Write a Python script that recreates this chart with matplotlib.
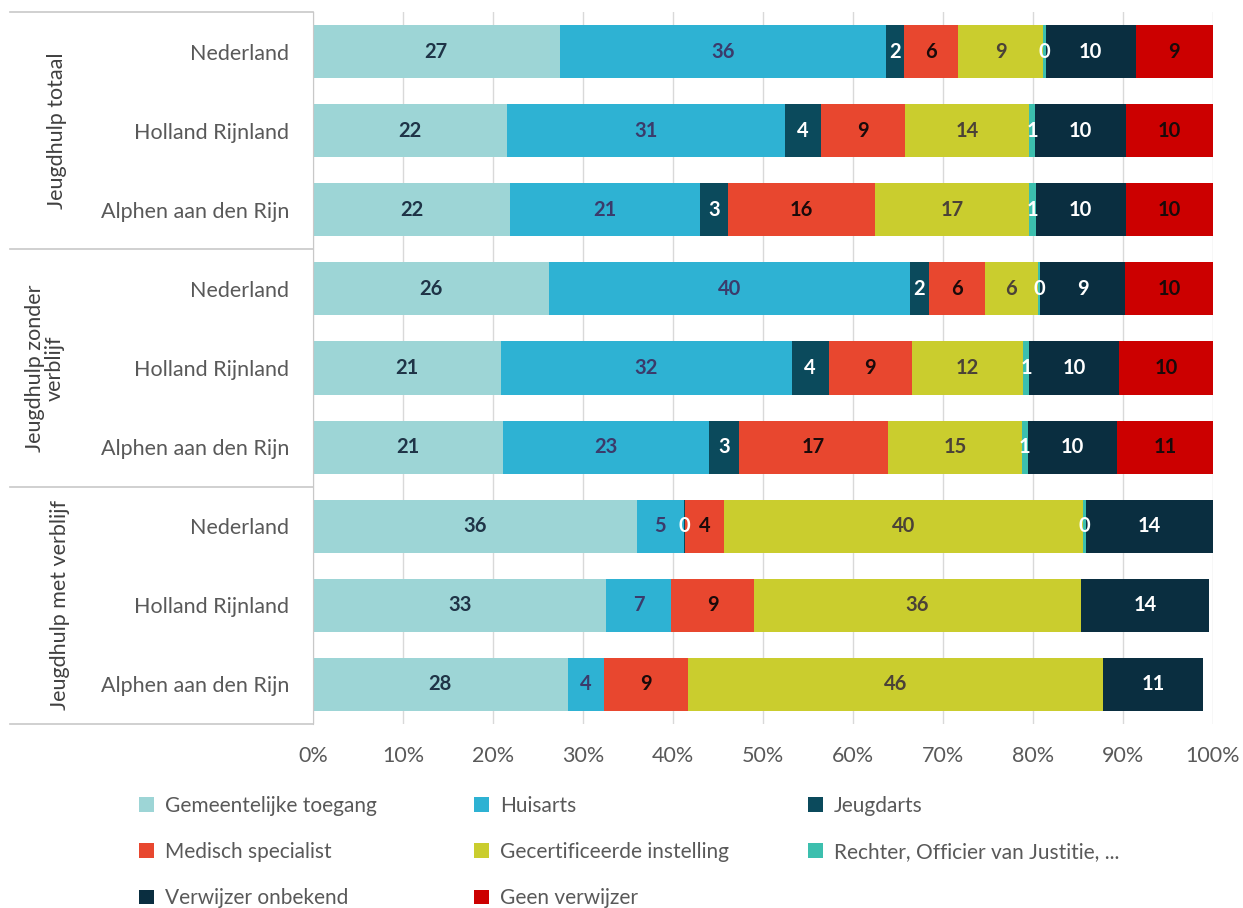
import matplotlib.pyplot as plt
from matplotlib.patches import Patch
from matplotlib.transforms import blended_transform_factory

plt.rcParams["font.family"] = ["Lato", "DejaVu Sans"]

# rows, top to bottom
rows = ["Nederland", "Holland Rijnland", "Alphen aan den Rijn"] * 3
groups = ["Jeugdhulp totaal", "Jeugdhulp zonder\nverblijf", "Jeugdhulp met verblijf"]

# share per verwijzer (%), None = no value
gemeente = [27.4, 21.6, 21.9, 26.2, 20.9, 21.1, 36.0, 32.6, 28.3]
huisarts = [36.3, 30.8, 21.1, 40.1, 32.3, 22.9, 5.2, 7.2, 4.0]
jeugdarts = [2.0, 4.0, 3.1, 2.1, 4.1, 3.3, 0.1, None, None]
medisch = [6.0, 9.4, 16.3, 6.3, 9.2, 16.6, 4.4, 9.2, 9.4]
gecert = [9.4, 13.8, 17.2, 5.8, 12.4, 14.9, 39.9, 36.3, 46.1]
rechter = [0.3, 0.6, 0.7, 0.3, 0.7, 0.6, 0.3, None, None]
onbekend = [10.0, 10.1, 10.0, 9.4, 10.0, 9.9, 14.1, 14.3, 11.1]
geen = [8.6, 9.7, 9.7, 9.8, 10.4, 10.7, None, None, None]

series = [
    ("Gemeentelijke toegang", gemeente, "#9dd5d6", "#1f3447"),
    ("Huisarts", huisarts, "#2eb2d3", "#3b3b6b"),
    ("Jeugdarts", jeugdarts, "#0b4a5c", "white"),
    ("Medisch specialist", medisch, "#e8472f", "#1a0a0a"),
    ("Gecertificeerde instelling", gecert, "#cacd2e", "#4b4237"),
    ("Rechter, Officier van Justitie, ...", rechter, "#3cbfae", "white"),
    ("Verwijzer onbekend", onbekend, "#0a2e40", "white"),
    ("Geen verwijzer", geen, "#cc0000", "#1a0a0a"),
]

fig = plt.figure(figsize=(12.43, 9.08), dpi=100)
ax = fig.add_axes([313 / 1243, 1 - 724 / 908, 900 / 1243, 712 / 908])

ypos = list(range(len(rows)))
left = [0.0] * len(rows)
for name, vals, color, tcolor in series:
    w = [v if v is not None else 0 for v in vals]
    ax.barh(ypos, w, left=left, height=0.67, color=color, zorder=2)
    for i, v in enumerate(vals):
        if v is not None:
            ax.text(left[i] + v / 2, i, f"{v:.0f}", ha="center", va="center",
                    fontsize=14.5, fontweight="bold", color=tcolor, zorder=3)
    left = [l + x for l, x in zip(left, w)]

ax.set_xlim(0, 100)
ax.set_ylim(8.5, -0.5)
ax.set_xticks(range(0, 101, 10))
ax.set_xticklabels([f"{t}%" for t in range(0, 101, 10)])
ax.set_yticks(ypos)
ax.set_yticklabels(rows)
ax.tick_params(axis="both", length=0, labelsize=15.5, labelcolor="#595959")
ax.tick_params(axis="y", pad=17)
ax.tick_params(axis="x", pad=16)
ax.grid(axis="x", color="#d9d9d9", linewidth=1, zorder=0)
for s in ["top", "right", "bottom"]:
    ax.spines[s].set_visible(False)
ax.spines["left"].set_color("#c8c8c8")

# multi-level category axis on the left
tr = blended_transform_factory(ax.transAxes, ax.transData)
for yb in [-0.5, 2.5, 5.5, 8.5]:
    ax.plot([-0.337, 0], [yb, yb], color="#c8c8c8", linewidth=1.2,
            transform=tr, clip_on=False)
for g, (label, xg) in enumerate(zip(groups, [-0.284, -0.298, -0.281])):
    ax.text(xg, 3 * g + 1, label, rotation=90, ha="center", va="center",
            fontsize=15.5, color="#404040", transform=tr, linespacing=1.0)

# legend, laid out row by row in three columns
handles = [Patch(facecolor=c, edgecolor="none") for _, _, c, _ in series]
names = [n for n, _, _, _ in series]
cols = [[0, 3, 6], [1, 4, 7], [2, 5]]
for xc, idx in zip([139 / 1243, 474 / 1243, 808 / 1243], cols):
    fig.legend([handles[i] for i in idx], [names[i] for i in idx],
               loc="upper left", bbox_to_anchor=(xc, 1 - 796 / 908),
               frameon=False, fontsize=15, labelcolor="#595959",
               handlelength=0.7, handleheight=0.7, handletextpad=0.55,
               labelspacing=1.25, borderaxespad=0, borderpad=0)

fig.savefig("out.png", dpi=100)
plt.close()
